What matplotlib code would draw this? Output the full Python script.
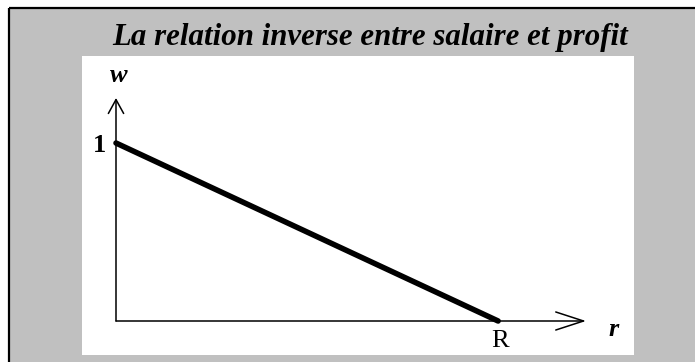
import matplotlib
matplotlib.use("Agg")
from matplotlib import pyplot as plt
from matplotlib.patches import Rectangle

""" Inverse relation between wage (w) and profit rate (r): w = 1 - r/R
"""

PARAMS = {
    "title": 22.2,
    "lab": 19,
}

TITLE = "La relation inverse entre salaire et profit"

# wage-profit frontier, r on [0, R] with R normalised to 1
r_points = [0.0, 1.0]
w_points = [1.0, 0.0]
r_max = 1.23
w_max = 1.253

GRAY = "#c0c0c0"
SERIF = "Liberation Serif"

fig = plt.figure(figsize=(6.95, 3.62), dpi=100)
fig.patch.set_facecolor("white")

# frame / panel drawn in pixel space
bg = fig.add_axes([0, 0, 1, 1])
bg.set_xlim(0, 695)
bg.set_ylim(362, 0)
bg.set_axis_off()
bg.add_patch(Rectangle((9, 8), 700, 360, facecolor=GRAY, edgecolor="none"))
bg.plot([9, 695], [8, 8], color="black", lw=1.6, solid_capstyle="butt")
bg.plot([9, 9], [8, 362], color="black", lw=1.6, solid_capstyle="butt")
bg.add_patch(Rectangle((82, 56), 552, 299, facecolor="white", edgecolor="none"))

bg.text(370, 45, TITLE, ha="center", va="baseline", fontsize=PARAMS["title"],
        family=SERIF, style="italic", weight="bold")

# plotting area: origin at the axes corner
ax = fig.add_axes([116 / 695, 41 / 362, 470 / 695, 223 / 362])
ax.set_xlim(0, r_max)
ax.set_ylim(0, w_max)
ax.set_axis_off()

arrow_kw = dict(color="black", lw=1.1, shrinkA=0, shrinkB=0)
ax.annotate("", xy=(r_max, 0), xytext=(0, 0), annotation_clip=False,
            arrowprops=dict(arrowstyle="->,head_length=2.0,head_width=0.65", **arrow_kw))
ax.annotate("", xy=(0, w_max), xytext=(0, 0), annotation_clip=False,
            arrowprops=dict(arrowstyle="->,head_length=1.0,head_width=0.55", **arrow_kw))

ax.plot(r_points, w_points, color="black", lw=4.0, solid_capstyle="round", clip_on=False)

ax.annotate("w", xy=(0, w_max), xytext=(3, 23), textcoords="offset pixels",
            ha="center", va="center", fontsize=PARAMS["lab"], family=SERIF,
            style="italic", weight="bold", annotation_clip=False)
ax.annotate("1", xy=(0, w_points[0]), xytext=(-10, -2), textcoords="offset pixels",
            ha="right", va="center", fontsize=PARAMS["lab"], family=SERIF,
            weight="bold", annotation_clip=False)
ax.annotate("R", xy=(r_points[1], 0), xytext=(2, -9), textcoords="offset pixels",
            ha="center", va="top", fontsize=PARAMS["lab"], family=SERIF,
            annotation_clip=False)
ax.annotate("r", xy=(r_max, 0), xytext=(28, -8), textcoords="offset pixels",
            ha="center", va="center", fontsize=PARAMS["lab"], family=SERIF,
            style="italic", weight="bold", annotation_clip=False)

fig.savefig("out.png", dpi=100)
